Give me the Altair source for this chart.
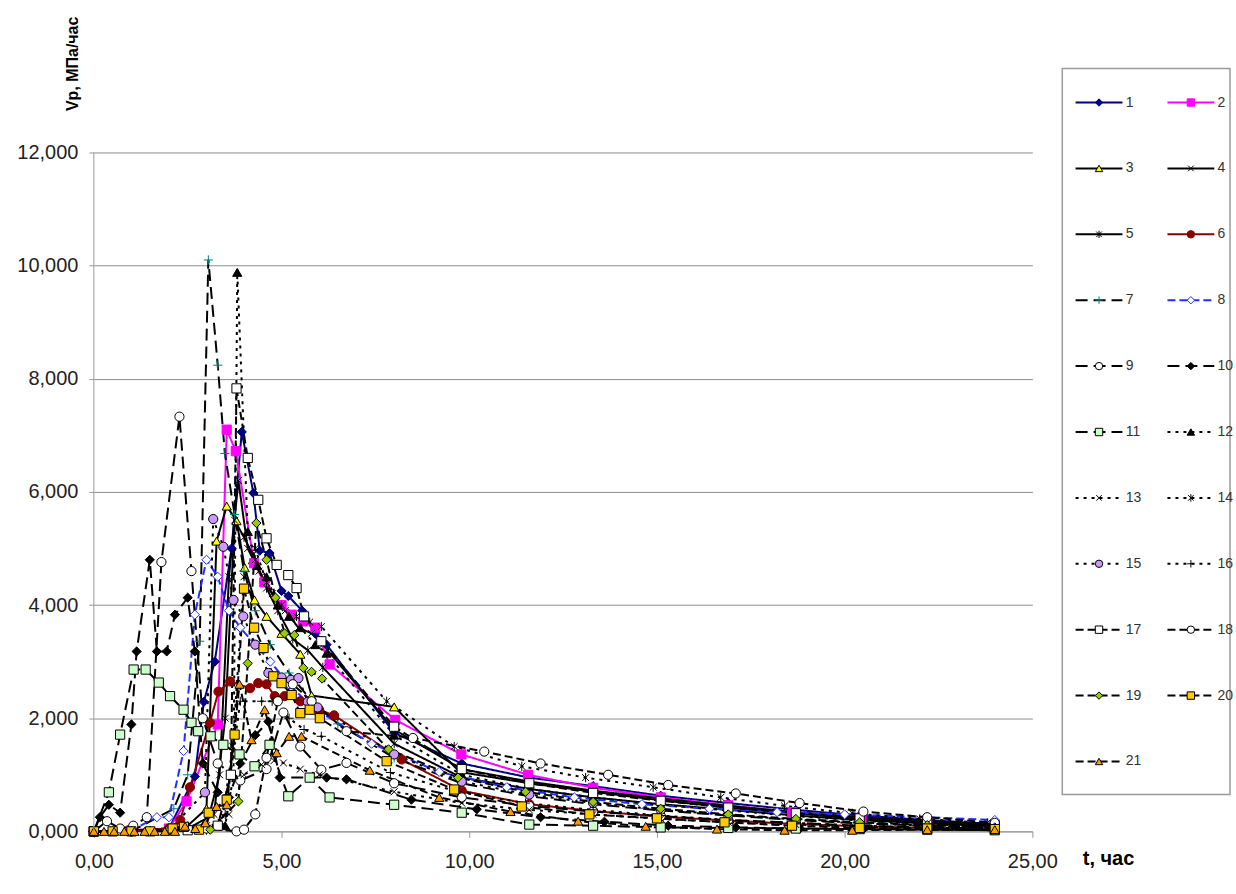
import altair as alt
import pandas as pd

names = [str(i) for i in range(1, 22)]

t1 = [0, 1.0, 2.0, 2.69, 2.93, 3.22, 3.67, 3.94, 4.25, 4.42, 4.68, 5.0, 5.18, 5.55, 5.9, 6.2, 8.0, 9.8, 11.6, 13.3, 15.1, 16.9, 18.7, 20.4, 22.2, 24.0]
v1 = [0, 0.02, 0.05, 0.97, 2.29, 3.0, 5.0, 7.06, 5.98, 4.96, 4.92, 4.25, 4.16, 3.9, 3.5, 3.3, 1.74, 1.2, 0.95, 0.8, 0.63, 0.5, 0.38, 0.28, 0.2, 0.13]
t2 = [0, 1.0, 2.0, 2.47, 3.3, 3.54, 3.78, 4.27, 4.54, 5.0, 5.27, 5.57, 5.9, 6.28, 8.03, 9.79, 11.57, 13.3, 15.1, 16.9, 18.6, 20.45, 22.2, 24.0]
v2 = [0, 0.02, 0.05, 0.53, 1.89, 7.1, 6.72, 4.74, 4.4, 4.0, 3.83, 3.71, 3.6, 2.95, 1.97, 1.36, 1.0, 0.77, 0.6, 0.46, 0.34, 0.24, 0.17, 0.11]
t3 = [0, 1.5, 2.5, 3.0, 3.27, 3.54, 3.8, 4.02, 4.28, 4.6, 5.0, 5.5, 5.8, 8.0, 9.75, 11.6, 13.3, 15.1, 16.9, 18.7, 20.4, 22.2, 24.0]
v3 = [0, 0.02, 0.1, 0.4, 5.13, 5.75, 5.49, 4.66, 4.09, 3.8, 3.5, 3.13, 2.4, 2.2, 1.05, 0.85, 0.7, 0.55, 0.42, 0.32, 0.22, 0.15, 0.1]
t4 = [0, 2.0, 3.0, 3.35, 3.6, 3.85, 4.1, 4.4, 4.75, 5.1, 5.45, 5.8, 6.1, 8.0, 9.8, 11.6, 13.3, 15.1, 16.9, 18.7, 20.4, 22.2, 24.0]
v4 = [0, 0.02, 0.1, 1.0, 4.5, 6.2, 5.0, 4.6, 4.2, 3.9, 3.6, 3.5, 3.3, 1.8, 1.1, 0.88, 0.72, 0.58, 0.45, 0.34, 0.25, 0.18, 0.12]
t5 = [0, 2.5, 3.2, 3.5, 3.75, 4.0, 4.3, 4.6, 4.9, 5.3, 5.7, 6.1, 8.0, 9.8, 11.6, 13.3, 15.1, 16.9, 18.7, 20.4, 22.2, 24.0]
v5 = [0, 0.05, 0.3, 2.0, 5.5, 5.2, 4.8, 4.3, 3.9, 3.4, 3.2, 2.9, 1.55, 0.95, 0.75, 0.6, 0.48, 0.38, 0.28, 0.2, 0.14, 0.09]
t6 = [0, 1.0, 2.0, 2.3, 2.56, 3.09, 3.32, 3.63, 4.16, 4.38, 4.6, 4.82, 5.08, 5.5, 6.0, 6.4, 8.2, 9.8, 11.6, 13.3, 15.1, 16.9, 18.7, 20.4, 22.2, 24.0]
v6 = [0, 0, 0.05, 0.2, 0.78, 1.92, 2.47, 2.65, 2.53, 2.62, 2.6, 2.39, 2.39, 2.3, 2.15, 2.05, 1.27, 0.72, 0.48, 0.36, 0.26, 0.19, 0.13, 0.09, 0.06, 0.04]
t7 = [0, 1.0, 2.13, 2.5, 2.82, 3.05, 3.3, 3.49, 3.75, 4.0, 4.3, 4.7, 5.2, 5.8, 6.5, 8.0, 9.8, 11.6, 13.3, 15.1, 16.9, 18.7, 20.4, 22.2, 24.0]
v7 = [0, 0, 0.4, 1.0, 3.36, 10.1, 8.24, 6.68, 5.6, 4.6, 3.9, 3.3, 2.8, 2.3, 1.9, 1.3, 0.85, 0.62, 0.48, 0.37, 0.28, 0.2, 0.14, 0.1, 0.07]
t8 = [0, 1.0, 1.68, 2.0, 2.39, 2.69, 3.0, 3.3, 3.6, 3.9, 4.3, 4.7, 5.2, 5.8, 7.4, 9.2, 11.0, 12.8, 14.6, 16.4, 18.2, 20.0, 22.2, 24.0]
v8 = [0, 0.02, 0.25, 0.25, 1.42, 3.83, 4.8, 4.5, 3.9, 3.6, 3.3, 3.0, 2.6, 2.2, 1.55, 1.05, 0.78, 0.6, 0.48, 0.4, 0.34, 0.3, 0.25, 0.2]
t9 = [0, 0.35, 0.7, 1.05, 1.41, 1.8, 2.28, 2.6, 2.9, 3.3, 3.9, 4.6, 5.05, 5.5, 6.06, 6.73, 8.0, 9.8, 11.6, 13.3, 15.1, 16.9, 18.7, 20.4, 22.2, 24.0]
v9 = [0, 0.18, 0.05, 0.1, 0.25, 4.76, 7.33, 4.6, 2.0, 1.2, 0.9, 1.1, 2.1, 1.5, 1.09, 1.21, 0.85, 0.6, 0.45, 0.35, 0.27, 0.2, 0.15, 0.1, 0.07, 0.05]
t10 = [0, 0.16, 0.4, 0.7, 1.0, 1.14, 1.49, 1.68, 1.94, 2.16, 2.5, 2.69, 2.9, 3.3, 3.6, 3.9, 4.3, 4.65, 4.95, 6.2, 6.73, 8.46, 10.2, 11.9, 13.6, 15.3, 17.1, 18.8, 20.5, 22.2, 24.0]
v10 = [0, 0.25, 0.47, 0.33, 1.89, 3.18, 4.8, 3.18, 3.18, 3.83, 4.13, 3.18, 1.2, 0.69, 0.6, 1.2, 1.7, 1.94, 0.95, 0.95, 0.92, 0.56, 0.39, 0.25, 0.17, 0.1, 0.07, 0.05, 0.04, 0.03, 0.02]
t11 = [0, 0.4, 0.7, 1.06, 1.38, 1.73, 2.03, 2.39, 2.6, 2.78, 3.11, 3.45, 3.88, 4.28, 4.68, 5.18, 5.75, 6.28, 8.0, 9.8, 11.6, 13.3, 15.1, 16.9, 18.7, 20.4, 22.2, 24.0]
v11 = [0, 0.69, 1.71, 2.86, 2.86, 2.63, 2.39, 2.15, 1.92, 1.77, 1.68, 1.53, 1.36, 1.15, 1.53, 0.62, 0.95, 0.6, 0.47, 0.33, 0.12, 0.1, 0.07, 0.06, 0.05, 0.04, 0.03, 0.02]
t12 = [0, 2.0, 3.0, 3.5, 3.72, 3.82, 4.1, 4.35, 4.6, 4.9, 5.2, 5.5, 5.9, 6.2, 8.0, 9.8, 11.6, 13.3, 15.1, 16.9, 18.7, 20.4, 22.2, 24.0]
v12 = [0, 0.02, 0.05, 0.1, 1.0, 9.88, 5.3, 4.7, 4.5, 4.0, 3.8, 3.6, 3.3, 3.15, 1.7, 1.0, 0.75, 0.6, 0.47, 0.37, 0.27, 0.19, 0.13, 0.08]
t13 = [0, 3.0, 3.6, 4.0, 4.47, 4.8, 5.05, 5.5, 6.0, 8.0, 9.8, 11.6, 13.3, 15.1, 16.9, 18.7, 20.4, 22.2, 24.0]
v13 = [0, 0.02, 0.3, 1.0, 1.18, 1.25, 1.21, 1.1, 1.0, 0.7, 0.5, 0.38, 0.3, 0.22, 0.16, 0.12, 0.08, 0.06, 0.04]
t14 = [0, 2.5, 3.4, 3.7, 4.0, 4.3, 4.6, 5.0, 5.4, 5.75, 6.06, 7.8, 9.6, 11.4, 13.1, 14.9, 16.7, 18.4, 20.2, 22.0, 23.8]
v14 = [0, 0.02, 0.1, 1.5, 4.5, 5.0, 4.4, 4.0, 3.8, 3.7, 3.62, 2.3, 1.5, 1.15, 0.95, 0.78, 0.6, 0.45, 0.32, 0.22, 0.15]
t15 = [0, 1.0, 2.0, 2.96, 3.18, 3.45, 3.72, 3.98, 4.3, 4.65, 5.0, 5.25, 5.45, 5.7, 5.96, 8.0, 9.8, 11.6, 13.3, 15.1, 16.9, 18.7, 20.4, 22.2, 24.0]
v15 = [0, 0, 0.02, 0.69, 5.52, 5.03, 4.09, 3.8, 3.3, 2.8, 2.72, 2.68, 2.71, 2.29, 2.19, 1.36, 0.88, 0.65, 0.5, 0.38, 0.29, 0.21, 0.15, 0.1, 0.07]
t16 = [0, 3.0, 3.5, 3.9, 4.47, 4.75, 5.2, 5.6, 6.06, 7.9, 9.7, 11.5, 13.3, 15.1, 16.9, 18.7, 20.4, 22.2, 24.0]
v16 = [0, 0.02, 0.3, 2.3, 2.3, 2.3, 2.0, 1.8, 1.68, 1.04, 0.7, 0.5, 0.38, 0.28, 0.2, 0.15, 0.1, 0.07, 0.05]
t17 = [0, 2.5, 3.3, 3.65, 3.8, 4.1, 4.38, 4.6, 4.87, 5.18, 5.4, 5.6, 6.06, 8.0, 9.8, 11.6, 13.3, 15.1, 16.9, 18.7, 20.4, 22.2, 24.0]
v17 = [0, 0.02, 0.1, 1.0, 7.83, 6.6, 5.86, 5.18, 4.71, 4.53, 4.3, 3.8, 3.36, 1.85, 1.1, 0.85, 0.68, 0.54, 0.42, 0.32, 0.23, 0.16, 0.1]
t18 = [0, 2.0, 3.0, 3.8, 4.0, 4.3, 4.6, 4.9, 5.3, 5.8, 6.73, 8.5, 10.4, 11.9, 13.7, 15.3, 17.1, 18.8, 20.5, 22.2, 24.0]
v18 = [0, 0.02, 0.05, 0, 0.03, 0.3, 1.3, 2.3, 2.6, 2.3, 1.77, 1.65, 1.41, 1.2, 1.0, 0.82, 0.67, 0.5, 0.35, 0.25, 0.15]
t19 = [0, 1.0, 2.0, 3.1, 3.85, 4.1, 4.33, 4.6, 4.84, 5.08, 5.34, 5.58, 5.8, 6.08, 7.85, 9.7, 11.5, 13.3, 15.1, 16.9, 18.7, 20.4, 22.2, 24.0]
v19 = [0, 0, 0.02, 0.03, 0.53, 2.97, 5.45, 4.8, 4.13, 3.5, 3.47, 2.89, 2.82, 2.7, 1.45, 0.95, 0.7, 0.52, 0.4, 0.3, 0.22, 0.16, 0.11, 0.07]
t20 = [0, 0.5, 1.0, 1.5, 2.1, 2.4, 2.8, 3.06, 3.54, 3.75, 4.0, 4.27, 4.52, 4.78, 5.0, 5.27, 5.5, 5.75, 6.02, 7.8, 9.6, 11.4, 13.2, 15.0, 16.8, 18.6, 20.4, 22.2, 24.0]
v20 = [0, 0, 0, 0, 0.05, 0.08, 0.03, 0.33, 0.56, 1.71, 4.29, 3.6, 3.24, 2.74, 2.62, 2.41, 2.09, 2.15, 2.0, 1.24, 0.74, 0.44, 0.3, 0.23, 0.16, 0.1, 0.06, 0.05, 0.04]
t21 = [0, 0.27, 0.54, 0.81, 1.08, 1.35, 1.62, 1.89, 2.16, 2.43, 2.7, 2.97, 3.27, 3.54, 3.88, 4.2, 4.55, 4.87, 5.2, 5.53, 7.35, 9.2, 11.1, 12.9, 14.7, 16.6, 18.4, 20.2, 22.2, 24.0]
v21 = [0, 0, 0, 0, 0, 0, 0, 0, 0, 0.09, 0.05, 0.15, 0.44, 0.47, 2.6, 1.62, 2.15, 1.39, 1.68, 1.68, 1.08, 0.6, 0.35, 0.18, 0.09, 0.04, 0.02, 0.02, 0.03, 0.03]

x_ticks = [0, 5, 10, 15, 20, 25]
y_ticks = [0, 2, 4, 6, 8, 10, 12]

# ---- styles ----
BLK = "#000000"
line_colors = ["#000080", "#FF00FF", BLK, BLK, BLK, "#8B0000", BLK, "#1F2FFF"] + [BLK] * 13
SOLID, LDASH, DASH, DOT = [1, 0], [12, 6], [8, 4], [3, 5]
dashes = [SOLID] * 6 + [LDASH, DASH, LDASH, LDASH, LDASH] + [DOT] * 5 + [DASH] * 5
widths = [2] * 6 + [2.8, 2, 2.8, 2.8, 2.8] + [2.8] * 5 + [2.6] * 5
XS = "M-0.75,-0.75L0.75,0.75M-0.75,0.75L0.75,-0.75"
STAR = "M-0.75,-0.75L0.75,0.75M-0.75,0.75L0.75,-0.75M0,-1L0,1"
PLUS = "M-1,0L1,0M0,-1L0,1"
shapes = ["diamond", "square", "triangle-up", XS, STAR, "circle", PLUS, "diamond", "circle", "diamond",
          "square", "triangle-up", XS, STAR, "circle", PLUS, "square", "circle", "diamond", "square", "triangle-up"]
TR = "transparent"
fills = ["#000080", "#FF00FF", "#FFFF00", TR, TR, "#8B0000", TR, "#FFFFFF", "#FFFFFF", BLK,
         "#CCFFCC", BLK, TR, TR, "#CC99FF", TR, "#FFFFFF", "#FFFFFF", "#99CC00", "#FFCC00", "#FF9900"]
strokes = ["#000080", "#FF00FF", BLK, BLK, BLK, "#8B0000", "#008080", "#1F2FFF"] + [BLK] * 13

ts = [t1, t2, t3, t4, t5, t6, t7, t8, t9, t10, t11, t12, t13, t14, t15, t16, t17, t18, t19, t20, t21]
vs = [v1, v2, v3, v4, v5, v6, v7, v8, v9, v10, v11, v12, v13, v14, v15, v16, v17, v18, v19, v20, v21]
recs = []
for n, tt, vv in zip(names, ts, vs):
    for k, (a, b) in enumerate(zip(tt, vv)):
        recs.append({"s": n, "t": a, "v": b, "o": k})
df = pd.DataFrame(recs)

FONT = "Liberation Sans"
color_enc = alt.Color("s:N", scale=alt.Scale(domain=names, range=line_colors), legend=None)
dash_enc = alt.StrokeDash("s:N", scale=alt.Scale(domain=names, range=dashes), legend=None)
width_enc = alt.StrokeWidth("s:N", scale=alt.Scale(domain=names, range=widths), legend=None)
shape_enc = alt.Shape("s:N", scale=alt.Scale(domain=names, range=shapes), legend=None)
fill_enc = alt.Fill("s:N", scale=alt.Scale(domain=names, range=fills), legend=None)
stroke_enc = alt.Stroke("s:N", scale=alt.Scale(domain=names, range=strokes), legend=None)

YTOP = 13.482
xs = alt.Scale(domain=[0, 25], nice=False, zero=False)
ys = alt.Scale(domain=[0, YTOP], nice=False, zero=True)

x_axis = alt.Axis(values=x_ticks, labelExpr="replace(format(datum.value, '.2f'), '.', ',')",
                  grid=False, tickSize=6, labelPadding=14, labelFlush=False,
                  domainColor="#9a9a9a", tickColor="#9a9a9a",
                  labelFont=FONT, labelFontSize=20, labelColor="#222",
                  title="t, час", titleX=990, titleY=27, titleAlign="left", titleBaseline="middle",
                  titleAngle=0, titleFont=FONT, titleFontSize=20, titleFontWeight="bold", titleColor="#000")
y_axis = alt.Axis(values=y_ticks, labelExpr="replace(format(datum.value, '.3f'), '.', ',')",
                  grid=True, gridColor="#8c8c8c", gridWidth=1, domain=False, tickSize=5, tickColor="#9a9a9a",
                  labelPadding=11, labelFlush=False, labelFont=FONT, labelFontSize=20, labelColor="#222",
                  title="Vp, МПа/час", titleAngle=-90, titleX=-13, titleY=42, titleAlign="left",
                  titleBaseline="bottom", titleFont=FONT, titleFontSize=16, titleFontWeight="bold", titleColor="#000")

base = alt.Chart(df)
lines = base.mark_line(strokeJoin="miter").encode(
    x=alt.X("t:Q", scale=xs, axis=x_axis),
    y=alt.Y("v:Q", scale=ys, axis=y_axis),
    color=color_enc, strokeDash=dash_enc, strokeWidth=width_enc,
    order=alt.Order("o:Q"),
)
points = base.mark_point(filled=True, opacity=1, strokeWidth=1, size=85).encode(
    x="t:Q", y="v:Q", shape=shape_enc, fill=fill_enc, stroke=stroke_enc,
)
yline = alt.Chart(pd.DataFrame({"k": [0]})).mark_rule(color="#9a9a9a", strokeWidth=1).encode(
    x=alt.datum(0), y=alt.datum(0), y2=alt.datum(12)
)
main = alt.layer(lines, points, yline).properties(width=940, height=764)

# ---- legend panel ----
LW, LH = 168, 727
ldf = pd.DataFrame({"s": names, "col": [i % 2 for i in range(21)], "row": [i // 2 for i in range(21)]})
lbase = alt.Chart(ldf).transform_calculate(
    x1="datum.col + 0.145", x2="datum.col + 0.655", xc="datum.col + 0.40", xl="datum.col + 0.69"
)
lxs = alt.Scale(domain=[0, LW / 92.0], nice=False, zero=False)
lys = alt.Scale(domain=[-0.515, 10.5], reverse=True, nice=False, zero=False)
lrule = lbase.mark_rule().encode(
    x=alt.X("x1:Q", scale=lxs, axis=None), x2="x2:Q",
    y=alt.Y("row:Q", scale=lys, axis=None),
    color=color_enc, strokeDash=dash_enc, strokeWidth=width_enc,
)
lpts = lbase.mark_point(filled=True, opacity=1, strokeWidth=1, size=55).encode(
    x="xc:Q", y="row:Q", shape=shape_enc, fill=fill_enc, stroke=stroke_enc,
)
ltxt = lbase.mark_text(align="left", baseline="middle", font=FONT, fontSize=14, color="#333").encode(
    x="xl:Q", y="row:Q", text="s:N"
)
legend_panel = alt.layer(lrule, lpts, ltxt).properties(
    width=LW, height=LH, view=alt.ViewBackground(stroke="#9a9a9a", strokeWidth=1.5)
)

chart = alt.hconcat(main, legend_panel, spacing=30, bounds="flush").resolve_scale(
    x="independent", y="independent"
).properties(
    padding={"left": 16, "top": 15, "right": 2, "bottom": 5}, background="#FFFFFF"
).configure_view(strokeWidth=0)

chart.save("out.html", embed_options={"renderer": "svg", "actions": False})
